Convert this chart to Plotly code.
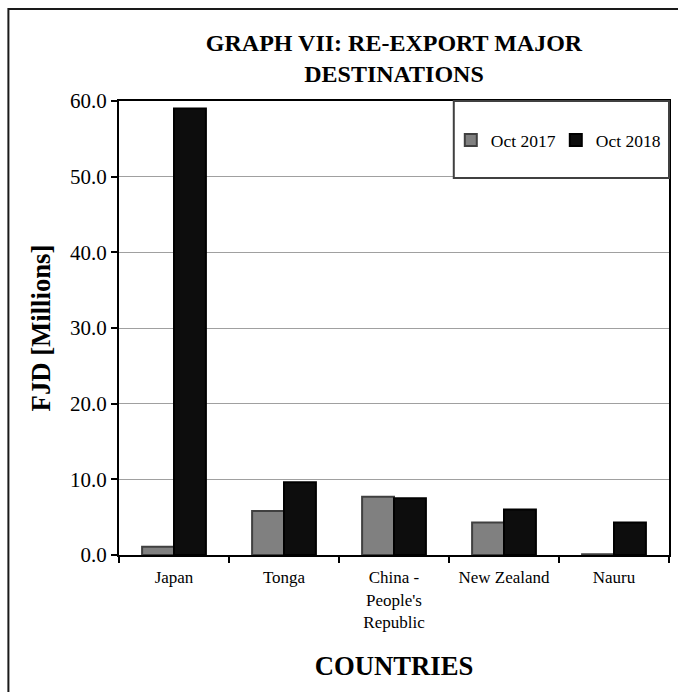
import plotly.graph_objects as go

# Re-export destinations, FJD millions
countries = ["Japan", "Tonga", "China -<br>People's<br>Republic", "New Zealand", "Nauru"]
oct_2017 = [1.1, 5.8, 7.7, 4.3, 0.1]
oct_2018 = [59.0, 9.6, 7.5, 6.0, 4.3]
y_ticks = [0, 10, 20, 30, 40, 50, 60]
y_tick_text = [f"{v:.1f}" for v in y_ticks]

W, H = 678, 692
L, R, T, B = 119, 7, 101, 137
PW, PH = W - L - R, H - T - B

SERIF = "Liberation Serif, Times New Roman, serif"


def px_x(p):
    return (p - L) / PW


def px_y(p):
    return (H - B - p) / PH


fig = go.Figure()
fig.add_trace(go.Bar(
    name="Oct 2017", x=countries, y=oct_2017,
    marker=dict(color="#808080", line=dict(color="#404040", width=2)),
))
fig.add_trace(go.Bar(
    name="Oct 2018", x=countries, y=oct_2018,
    marker=dict(color="#0d0d0d", line=dict(color="#000000", width=2)),
))

fig.update_layout(
    width=W, height=H,
    margin=dict(l=L, r=R, t=T, b=B),
    paper_bgcolor="white", plot_bgcolor="white",
    barmode="group", bargap=0.42, bargroupgap=0,
    font=dict(family=SERIF, color="black"),
    title=dict(
        text="<b>GRAPH VII: RE-EXPORT MAJOR<br>DESTINATIONS</b>",
        x=px_x(395), xref="paper", xanchor="center",
        y=1 - 51 / H, yref="container", yanchor="top",
        font=dict(size=24, family=SERIF, color="black"),
    ),
    legend=dict(
        orientation="h",
        x=px_x(452), xanchor="left",
        y=px_y(140), yanchor="middle",
        bgcolor="rgba(0,0,0,0)", borderwidth=0,
        font=dict(size=17.5, family=SERIF, color="black"),
        entrywidth=60,
    ),
    showlegend=True,
)

fig.update_xaxes(
    showline=True, linecolor="black", linewidth=2, mirror=True,
    ticks="outside", tickson="boundaries", ticklen=6, tickcolor="black", tickwidth=1.5,
    tickfont=dict(size=17, family=SERIF, color="black"),
    ticklabelstandoff=6,
    title=dict(text="<b>COUNTRIES</b>", font=dict(size=26.7, family=SERIF, color="black"), standoff=26),
    showgrid=False,
)
fig.update_yaxes(
    range=[0, 60], tickvals=y_ticks, ticktext=y_tick_text,
    showline=True, linecolor="black", linewidth=2, mirror=True,
    ticks="outside", ticklen=6, tickcolor="black", tickwidth=1.5,
    tickfont=dict(size=21, family=SERIF, color="black"),
    showgrid=True, gridcolor="#a0a0a0", gridwidth=1.2,
    zeroline=False,
    title=dict(text="<b>FJD [Millions]</b>", font=dict(size=26.7, family=SERIF, color="black"), standoff=12),
)

# legend frame in the upper-right corner of the plot
fig.add_shape(
    type="rect", xref="paper", yref="paper",
    x0=px_x(455), x1=px_x(671), y0=px_y(178), y1=px_y(101),
    fillcolor="white", line=dict(color="#404040", width=2), layer="above",
)
# outer chart frame
fig.add_shape(
    type="rect", xref="paper", yref="paper",
    x0=px_x(8), x1=px_x(W + 20), y0=px_y(H + 20), y1=px_y(9),
    fillcolor="rgba(0,0,0,0)", line=dict(color="#1a1a1a", width=2), layer="above",
)

fig.write_html("out.html")
